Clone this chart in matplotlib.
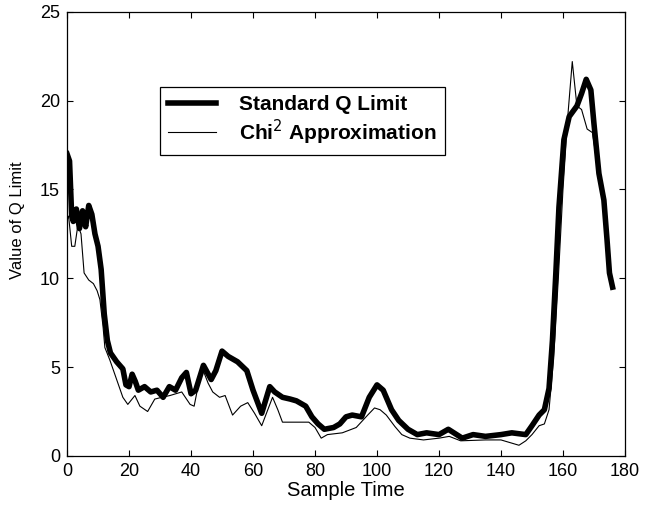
import matplotlib
matplotlib.use("Agg")
import matplotlib.pyplot as plt

plt.rcParams['font.family'] = ['Liberation Sans', 'DejaVu Sans']

# Standard Q Limit (thick)
std_t = [0, 0.8, 1.5, 2, 3, 4, 5, 6, 7, 8, 9, 10, 11, 12, 13, 14, 16, 18, 19, 20, 21, 22, 23,
         25, 27, 29, 31, 33, 35, 37, 38.5, 40, 41.5, 44, 46.5, 48, 50, 52, 55, 58, 60, 62.8,
         65.4, 67, 69.5, 72, 74, 77, 79, 81, 83, 86, 88, 90, 92, 95, 97.5, 100, 102, 104.7,
         107, 110, 113, 116, 120, 123, 127.5, 131, 135, 140, 143.5, 148, 150, 152.3, 154,
         155.5, 156.6, 157.7, 158.7, 160.3, 162, 164.5, 166, 167.5, 169, 170, 171.6, 173.2,
         174.2, 175, 176]
std_v = [17.0, 16.6, 13.5, 13.2, 13.9, 12.8, 13.8, 12.9, 14.1, 13.6, 12.5, 11.8, 10.5, 8.0,
         6.5, 5.8, 5.3, 4.9, 4.0, 3.9, 4.6, 4.2, 3.7, 3.9, 3.6, 3.7, 3.3, 3.9, 3.7, 4.4, 4.7,
         3.5, 3.7, 5.1, 4.3, 4.8, 5.9, 5.6, 5.3, 4.8, 3.7, 2.4, 3.9, 3.6, 3.3, 3.2, 3.1, 2.8,
         2.2, 1.8, 1.5, 1.6, 1.8, 2.2, 2.3, 2.2, 3.3, 4.0, 3.7, 2.6, 2.0, 1.5, 1.2, 1.3, 1.2,
         1.5, 1.0, 1.2, 1.1, 1.2, 1.3, 1.2, 1.7, 2.3, 2.6, 3.8, 6.5, 10.3, 14.0, 17.8, 19.1,
         19.7, 20.4, 21.2, 20.6, 18.7, 15.9, 14.4, 12.2, 10.3, 9.5]

# Chi^2 Approximation (thin)
chi_t = [0, 0.5, 1.5, 2.5, 3.5, 4.5, 5.5, 7, 8.5, 9.7, 10.6, 11.6, 12.2, 13.8, 16, 18, 19.6,
         21.9, 23.5, 26, 28.3, 30.6, 33.2, 37, 39.7, 41, 43.5, 45.5, 47, 49.2, 51, 53.4, 56,
         58.3, 60.5, 62.8, 66.3, 68, 69.5, 74, 78, 80, 82, 84, 88.8, 93.3, 97, 99.2, 101, 103,
         105.8, 108, 110.6, 115, 120, 123.3, 127, 135, 140, 145.8, 148, 150, 152.3, 154, 155.5,
         157, 158.5, 160, 161.5, 163, 164.5, 166, 167.8, 169.5, 171, 172.5, 174, 175, 176]
chi_v = [13.3, 13.5, 11.8, 11.8, 13.0, 12.5, 10.3, 9.9, 9.7, 9.3, 8.8, 7.3, 6.1, 5.4, 4.3,
         3.3, 2.9, 3.4, 2.8, 2.5, 3.2, 3.3, 3.4, 3.6, 2.9, 2.8, 5.0, 4.1, 3.6, 3.3, 3.4, 2.3,
         2.8, 3.0, 2.4, 1.7, 3.3, 2.6, 1.9, 1.9, 1.9, 1.6, 1.0, 1.2, 1.3, 1.6, 2.3, 2.7, 2.6,
         2.3, 1.65, 1.2, 1.0, 0.9, 1.0, 1.1, 0.85, 0.9, 0.9, 0.6, 0.85, 1.2, 1.7, 1.8, 2.6,
         5.5, 10.0, 15.0, 19.0, 22.2, 19.7, 19.5, 18.4, 18.2, 16.5, 15.2, 12.5, 10.5, 9.5]

x_ticks = [0, 20, 40, 60, 80, 100, 120, 140, 160, 180]
y_ticks = [0, 5, 10, 15, 20, 25]

fig = plt.figure(figsize=(6.51, 5.14), dpi=100)
ax = fig.add_axes([0.103, 0.113, 0.857, 0.864])

ax.plot(std_t, std_v, color='black', linewidth=4, label='Standard Q Limit', solid_joinstyle='round')
ax.plot(chi_t, chi_v, color='black', linewidth=0.8, label='Chi$^2$ Approximation')

ax.set_xlim(0, 180)
ax.set_ylim(0, 25)
ax.set_xticks(x_ticks)
ax.set_yticks(y_ticks)
ax.tick_params(direction='in', top=True, right=True, labelsize=13, length=4, width=0.8, pad=5)
for s in ax.spines.values():
    s.set_linewidth(0.9)

ax.set_xlabel('Sample Time', fontsize=14.5, labelpad=1)
ax.set_ylabel('Value of Q Limit', fontsize=12, labelpad=8)
ax.yaxis.set_label_coords(-0.075, 0.53)

leg = ax.legend(loc='upper left', bbox_to_anchor=(0.1667, 0.831), frameon=True, fancybox=False,
                edgecolor='black', framealpha=1, handlelength=2.3, handletextpad=1.1,
                borderpad=0.4, labelspacing=0.15, borderaxespad=0,
                prop={'size': 15, 'weight': 'bold'})
leg.get_frame().set_linewidth(0.9)

fig.savefig('out.png', dpi=100)
